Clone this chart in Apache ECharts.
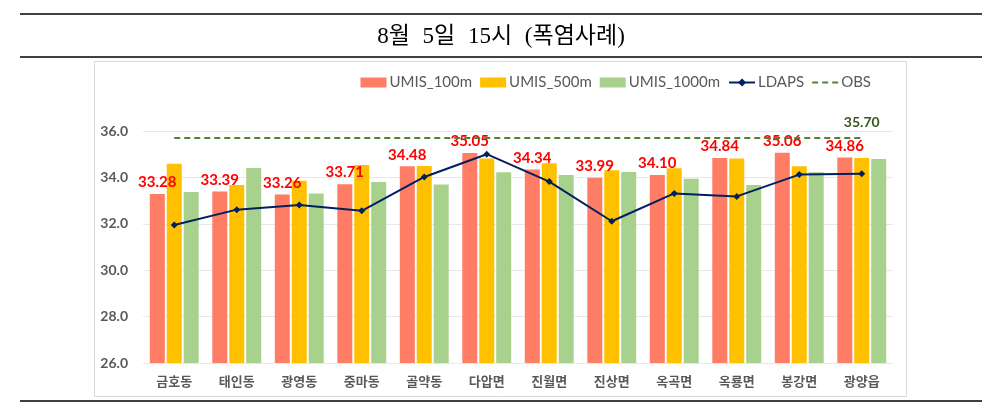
<!DOCTYPE html>
<html>
<head>
<meta charset="utf-8">
<script src="https://cdn.jsdelivr.net/npm/echarts@6/dist/echarts.min.js"></script>
<style>
html,body{margin:0;padding:0;background:#fff;}
#wrap{position:relative;width:1002px;height:410px;}
#c{width:1002px;height:410px;}
#t{position:absolute;left:0;top:22px;width:1002px;text-align:center;font-family:"Liberation Serif","Noto Sans CJK KR",serif;font-size:23px;line-height:28px;word-spacing:7px;color:#000;white-space:pre;}
</style>
</head>
<body>
<div id="wrap">
<div id="c"></div>
<div id="t"></div>
</div>
<script>
const titleText = '8월 5일 15시 (폭염사례)';
const categories = ['금호동','태인동','광영동','중마동','골약동','다압면','진월면','진상면','옥곡면','옥룡면','봉강면','광양읍'];
const umis100 = [33.28,33.39,33.26,33.71,34.48,35.05,34.34,33.99,34.10,34.84,35.06,34.86];
const umis500 = [34.59,33.67,33.86,34.53,34.49,34.82,34.61,34.31,34.39,34.81,34.48,34.84];
const umis1000 = [33.37,34.41,33.31,33.80,33.69,34.22,34.10,34.23,33.94,33.67,34.22,34.79];
const ldaps = [31.95,32.61,32.81,32.56,34.02,35.00,33.82,32.11,33.31,33.18,34.12,34.16];
const obsValue = 35.70;
const obs = categories.map(() => obsValue);
const yMin = 26, yMax = 36, yStep = 2;

document.getElementById('t').textContent = titleText;

const chart = echarts.init(document.getElementById('c'), null, {renderer:'canvas'});
const barW = 15;
const catFont = '"Noto Sans CJK KR", sans-serif';
const latin = 'Lato, "Noto Sans", sans-serif';
chart.setOption({
  animation:false,
  backgroundColor:'#ffffff',
  graphic:[
    {type:'line', shape:{x1:20,y1:14,x2:982,y2:14}, style:{stroke:'#000',lineWidth:1.5}, silent:true},
    {type:'line', shape:{x1:20,y1:57,x2:982,y2:57}, style:{stroke:'#000',lineWidth:1.5}, silent:true},
    {type:'line', shape:{x1:20,y1:401,x2:982,y2:401}, style:{stroke:'#000',lineWidth:1.5}, silent:true},
    {type:'rect', shape:{x:94.5,y:61.5,width:812,height:335}, style:{fill:'none',stroke:'#D9D9D9',lineWidth:1}, silent:true, z:-1}
  ],
  legend:{
    right:126, top:70,
    itemWidth:26, itemHeight:10, itemGap:8,
    textStyle:{fontFamily:latin, fontSize:15, color:'#595959', padding:[0,0,0,-2]},
    data:[
      {name:'UMIS_100m', icon:'rect'},
      {name:'UMIS_500m', icon:'rect'},
      {name:'UMIS_1000m', icon:'rect'},
      {name:'LDAPS'},
      {name:'OBS', icon:'path://M0,4h6v2h-6z M10,4h6v2h-6z M20,4h6v2h-6z', itemStyle:{color:'#548235'}}
    ]
  },
  grid:{left:143, right:109, top:131, bottom:47},
  xAxis:{
    type:'category', data:categories,
    axisLine:{show:false}, axisTick:{show:false},
    axisLabel:{fontFamily:catFont, fontSize:13, fontWeight:'bold', color:'#595959', margin:12}
  },
  yAxis:{
    type:'value', min:yMin, max:yMax, interval:yStep,
    axisLine:{show:false}, axisTick:{show:false},
    splitLine:{lineStyle:{color:'#E8E8E8', width:1}},
    axisLabel:{fontFamily:latin, fontSize:14, fontWeight:'bold', color:'#595959', margin:15,
      formatter:v=>v.toFixed(1)}
  },
  series:[
    {name:'UMIS_100m', type:'bar', data:umis100, barWidth:barW, barGap:'13%',
      itemStyle:{color:'#FF7C65'},
      label:{show:true, position:'top', distance:4, color:'#FF0000', fontWeight:'bold', fontSize:15,
        fontFamily:latin, formatter:p=>p.value.toFixed(2)}},
    {name:'UMIS_500m', type:'bar', data:umis500, barWidth:barW, barGap:'13%', itemStyle:{color:'#FFC000'}},
    {name:'UMIS_1000m', type:'bar', data:umis1000, barWidth:barW, barGap:'13%', itemStyle:{color:'#A9D18E'}},
    {name:'LDAPS', type:'line', data:ldaps, symbol:'diamond', symbolSize:7,
      lineStyle:{color:'#002060', width:2}, itemStyle:{color:'#002060'}, z:5},
    {name:'OBS', type:'line', data:obs, symbol:'none',
      lineStyle:{color:'#548235', width:2, type:[6,4]}, itemStyle:{color:'#548235'}, z:4,
      markPoint:{symbol:'circle', symbolSize:0,
        data:[{coord:[categories.length-1, obsValue], value:obsValue.toFixed(2)}],
        label:{show:true, position:'top', distance:8, color:'#375623', fontWeight:'bold', fontSize:14,
          fontFamily:latin}}}
  ]
});
</script>
</body>
</html>
